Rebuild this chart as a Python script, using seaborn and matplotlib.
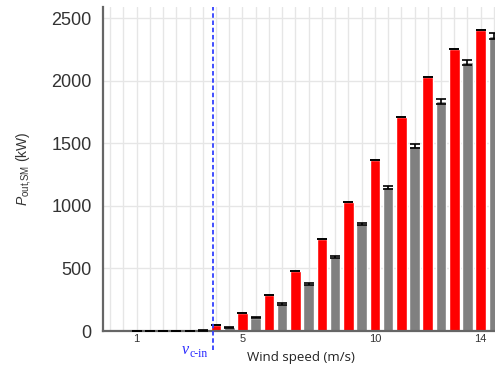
import numpy as np
import pandas as pd
import matplotlib
matplotlib.use("Agg")
import matplotlib.pyplot as plt
import seaborn as sns

# wind speed (m/s): red series at integer speeds, gray series offset by half a step
speed_red = [1, 2, 3, 4, 5, 6, 7, 8, 9, 10, 11, 12, 13, 14]
power_red = [0, 0, 0, 50, 148, 288, 480, 733, 1030, 1363, 1707, 2029, 2256, 2403]
err_red = [0] * 14

speed_gray = [1.5, 2.5, 3.5, 4.5, 5.5, 6.5, 7.5, 8.5, 9.5, 10.5, 11.5, 12.5, 13.5, 14.5]
power_gray = [0, 0, 4, 30, 105, 216, 376, 592, 856, 1150, 1480, 1835, 2147, 2357]
err_gray = [0, 0, 1, 3, 4, 5, 6, 8, 10, 12, 14, 17, 20, 23]

tick_pos = [1, 5, 10, 14]
v_cin = 3.88

df = pd.DataFrame({
    "speed": speed_red + speed_gray,
    "power": power_red + power_gray,
    "series": ["red"] * len(speed_red) + ["gray"] * len(speed_gray),
})

sns.set_style("white")
plt.rcParams["font.family"] = ["Liberation Sans", "DejaVu Sans"]
plt.rcParams["mathtext.fontset"] = "custom"
plt.rcParams["mathtext.rm"] = "Liberation Sans"
plt.rcParams["mathtext.it"] = "Liberation Sans:italic"

fig = plt.figure(figsize=(4.95, 3.65), dpi=100)
ax = fig.add_axes([0.208, 0.093, 0.80, 0.888])

sns.barplot(data=df, x="speed", y="power", hue="series", native_scale=True,
            dodge=False, palette={"red": "#ff0000", "gray": "#808080"},
            saturation=1, legend=False, errorbar=None, ax=ax, zorder=2)

ax.errorbar(speed_red, power_red, yerr=err_red, fmt="none", ecolor="black",
            elinewidth=1.2, capsize=3.8, capthick=1.2, zorder=3)
ax.errorbar(speed_gray, power_gray, yerr=err_gray, fmt="none", ecolor="black",
            elinewidth=1.2, capsize=3.8, capthick=1.2, zorder=3)

ax.set_xlim(-0.27, 14.69)
ax.set_ylim(0, 2590)

grid_x = np.arange(0, 15, 0.5)
ax.set_xticks(grid_x)
ax.set_xticklabels([str(int(v)) if v in tick_pos else "" for v in grid_x])
ax.set_yticks([0, 500, 1000, 1500, 2000, 2500])
ax.grid(True, color="#e6e6e6", linewidth=1.0, zorder=0)
ax.set_axisbelow(True)

ax.tick_params(axis="y", direction="in", length=5, width=1, color="#555555",
               labelsize=13, labelcolor="#333333", pad=8)
ax.tick_params(axis="x", direction="in", length=3, width=1, color="#555555",
               labelsize=8, labelcolor="#333333", pad=2)

for s in ["top", "right"]:
    ax.spines[s].set_visible(False)
for s in ["left", "bottom"]:
    ax.spines[s].set_color("#666666")
    ax.spines[s].set_linewidth(1.6)

ax.set_xlabel("Wind speed (m/s)", family=["Open Sans", "DejaVu Sans"],
              fontsize=9.5, color="#222222", labelpad=5)
ax.set_ylabel(r"$P_{\mathrm{out{,}SM}}$ (kW)", fontsize=10, color="#333333",
              labelpad=13)

# cut-in speed marker
ax.axvline(v_cin, ymin=-0.059, ymax=1.0, color="#3340ff", linewidth=1.3,
           linestyle=(0, (2.5, 1.5)), clip_on=False, zorder=4)
ax.text(2.99, -0.071, "v", transform=ax.get_xaxis_transform(),
        ha="right", va="baseline", color="#2a2aff", fontsize=11.5,
        family="Liberation Serif", style="italic")
ax.text(2.99, -0.081, "c-in", transform=ax.get_xaxis_transform(),
        ha="left", va="baseline", color="#2a2aff", fontsize=8.5,
        family="Liberation Serif")

fig.savefig("out.png", dpi=100)
